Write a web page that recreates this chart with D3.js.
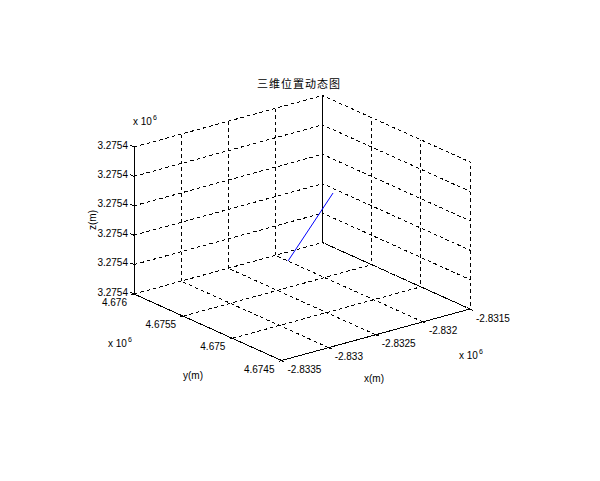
<!DOCTYPE html>
<html>
<head>
<meta charset="utf-8">
<script src="https://cdn.jsdelivr.net/npm/d3@7"></script>
<style>
  html, body { margin: 0; padding: 0; background: #fff; }
  svg text { font-family: "Liberation Sans", Arial, sans-serif; fill: #000; }
</style>
</head>
<body>
<svg id="chart" width="600" height="481"></svg>
<script>
// ---- data ----
const title = "三维位置动态图";
const xTicks = [-2833500, -2833000, -2832500, -2832000, -2831500];
const xTickLabels = ["-2.8335", "-2.833", "-2.8325", "-2.832", "-2.8315"];
const yTicks = [4674500, 4675000, 4675500, 4676000];
const yTickLabels = ["4.6745", "4.675", "4.6755", "4.676"];
const zTicks = [3275398, 3275400, 3275402, 3275404, 3275406, 3275408];
const zTickLabels = ["3.2754", "3.2754", "3.2754", "3.2754", "3.2754", "3.2754"];
const trackX = [-2832538, -2832429, -2832321];
const trackY = [4675356, 4675231, 4675106];
const trackZ = [3275400.5, 3275403.0, 3275405.5];

// ---- projection ----
const svg = d3.select("#chart");
const xS = d3.scaleLinear().domain(d3.extent(xTicks)).range([0, 1]);
const yS = d3.scaleLinear().domain(d3.extent(yTicks)).range([0, 1]);
const zS = d3.scaleLinear().domain(d3.extent(zTicks)).range([0, 1]);
const O = [281.5, 360.5];       // screen point of (xMin, yMin, zMin)
const EX = [188.5, -51.5];      // screen vector for full x range
const EY = [-147.5, -66.5];     // screen vector for full y range
const EZ = [0, -147];           // screen vector for full z range
function P(x, y, z) {
  const a = xS(x), b = yS(y), c = zS(z);
  return [O[0] + a * EX[0] + b * EY[0] + c * EZ[0],
          O[1] + a * EX[1] + b * EY[1] + c * EZ[1]];
}
const [xMin, xMax] = d3.extent(xTicks);
const [yMin, yMax] = d3.extent(yTicks);
const [zMin, zMax] = d3.extent(zTicks);

function seg(g, p1, p2, cls, off) {
  g.append("line").attr("x1", p1[0]).attr("y1", p1[1]).attr("x2", p2[0]).attr("y2", p2[1])
    .attr("stroke", "#000").attr("stroke-width", 1)
    .attr("stroke-dasharray", cls === "grid" ? "3.5,3" : null)
    .attr("stroke-dashoffset", off || 0)
    .attr("shape-rendering", "crispEdges");
}

// ---- grid ----
const grid = svg.append("g");
xTicks.forEach(x => seg(grid, P(x, yMin, zMin), P(x, yMax, zMin), "grid"));
yTicks.forEach(y => seg(grid, P(xMin, y, zMin), P(xMax, y, zMin), "grid"));
xTicks.forEach(x => seg(grid, P(x, yMax, zMin), P(x, yMax, zMax), "grid"));
zTicks.forEach(z => seg(grid, P(xMin, yMax, z), P(xMax, yMax, z), "grid"));
yTicks.forEach(y => seg(grid, P(xMax, y, zMin), P(xMax, y, zMax), "grid", 3.25));
zTicks.forEach(z => seg(grid, P(xMax, yMax, z), P(xMax, yMin, z), "grid", 1.6));

// ---- axes ----
const ax = svg.append("g");
seg(ax, P(xMin, yMax, zMin), P(xMin, yMax, zMax));
seg(ax, P(xMin, yMin, zMin), P(xMin, yMax, zMin));
seg(ax, P(xMin, yMin, zMin), P(xMax, yMin, zMin));

function unit(v, L) { const n = Math.hypot(v[0], v[1]); return [v[0] / n * L, v[1] / n * L]; }
const tz = unit(EY, 4), tx = unit([-EY[0], -EY[1]], 3), ty = unit([-EX[0], -EX[1]], 3);
zTicks.forEach(z => { const p = P(xMin, yMax, z); seg(ax, p, [p[0] + tz[0], p[1] + tz[1]]); });
xTicks.forEach(x => { const p = P(x, yMin, zMin); seg(ax, p, [p[0] + tx[0], p[1] + tx[1]]); });
yTicks.forEach(y => { const p = P(xMin, y, zMin); seg(ax, p, [p[0] + ty[0], p[1] + ty[1]]); });

// ---- tick labels ----
const lab = svg.append("g").attr("font-size", "10px");
zTicks.forEach((z, i) => {
  const p = P(xMin, yMax, z);
  lab.append("text").attr("x", p[0] - 6).attr("y", p[1] + 1.5).attr("text-anchor", "end").text(zTickLabels[i]);
});
xTicks.forEach((x, i) => {
  const p = P(x, yMin, zMin);
  lab.append("text").attr("x", p[0] + 6).attr("y", p[1] + 12.5).attr("text-anchor", "start").text(xTickLabels[i]);
});
yTicks.forEach((y, i) => {
  const p = P(xMin, y, zMin);
  lab.append("text").attr("x", p[0] - 7).attr("y", p[1] + 12).attr("text-anchor", "end").text(yTickLabels[i]);
});

// exponent labels
function expo(x, y) {
  lab.append("text").attr("x", x).attr("y", y).text("x 10");
  lab.append("text").attr("x", x + 20).attr("y", y - 5).attr("font-size", "7px").text("6");
}
expo(133, 124.5);
expo(108, 347);
expo(459, 358.5);

// axis labels
lab.append("text").attr("x", 374).attr("y", 381.5).attr("text-anchor", "middle").text("x(m)");
lab.append("text").attr("x", 193).attr("y", 378.5).attr("text-anchor", "middle").text("y(m)");
lab.append("text").attr("transform", "translate(96,220) rotate(-90)").attr("text-anchor", "middle").text("z(m)");

// title
svg.append("text").attr("x", 299).attr("y", 88).attr("text-anchor", "middle")
  .attr("font-size", "11px").attr("letter-spacing", "1px")
  .style("font-family", '"Noto Sans CJK SC", sans-serif').text(title);

// ---- trajectory ----
const pts = trackX.map((x, i) => P(x, trackY[i], trackZ[i]));
svg.append("path").attr("d", d3.line()(pts)).attr("fill", "none").attr("stroke", "#0000ff").attr("stroke-width", 1);
</script>
</body>
</html>
